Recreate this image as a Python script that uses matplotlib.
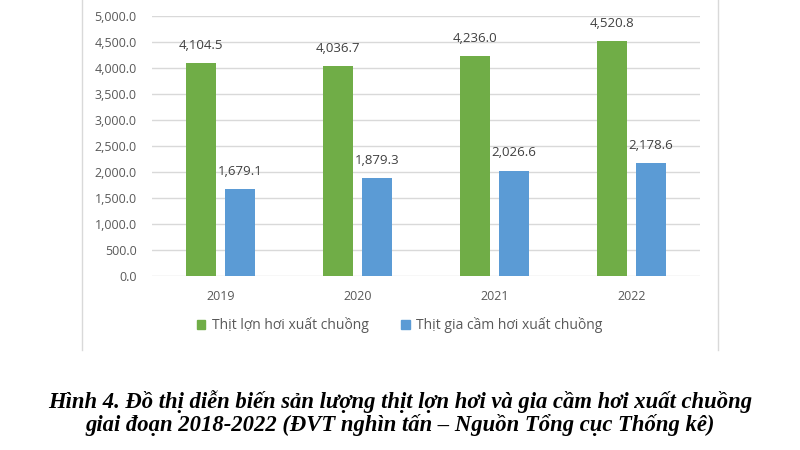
import matplotlib
matplotlib.use("Agg")
import matplotlib.pyplot as plt
import numpy as np
from matplotlib.lines import Line2D
from matplotlib.patches import Patch

years = ["2019", "2020", "2021", "2022"]
pork = [4104.5, 4036.7, 4236.0, 4520.8]
poultry = [1679.1, 1879.3, 2026.6, 2178.6]
series_names = ["Thịt lợn hơi xuất chuồng", "Thịt gia cầm hơi xuất chuồng"]
yticks = [0, 500, 1000, 1500, 2000, 2500, 3000, 3500, 4000, 4500, 5000]
caption = ("Hình 4. Đồ thị diễn biến sản lượng thịt lợn hơi và gia cầm hơi xuất chuồng\n"
           "giai đoạn 2018-2022 (ĐVT nghìn tấn – Nguồn Tổng cục Thống kê)")

green = "#70AD47"
blue = "#5B9BD5"
grey_txt = "#595959"
grid_c = "#D9D9D9"

plt.rcParams['font.family'] = ['Open Sans', 'DejaVu Sans']

fig = plt.figure(figsize=(8, 4.5), dpi=100)
ax = fig.add_axes([0.19, 0.387, 0.685, 0.577])

x = np.arange(len(years))
w = 0.22
half = 0.1425
b1 = ax.bar(x - half, pork, w, color=green, label=series_names[0])
b2 = ax.bar(x + half, poultry, w, color=blue, label=series_names[1])

for bars, vals in ((b1, pork), (b2, poultry)):
    for r, v in zip(bars, vals):
        ax.annotate(f"{v:,.1f}", (r.get_x() + r.get_width() / 2, v),
                    xytext=(0, 8), textcoords="offset points",
                    ha="center", va="bottom", fontsize=9.5, color="#404040")

ax.set_xlim(-0.5, len(years) - 0.5)
ax.set_ylim(0, 5000)
ax.set_yticks(yticks)
ax.set_yticklabels([f"{v:,.1f}" for v in yticks])
ax.set_xticks(x)
ax.set_xticklabels(years)
ax.tick_params(axis="both", length=0, labelsize=9, labelcolor=grey_txt)
ax.tick_params(axis="y", pad=11)
ax.tick_params(axis="x", pad=10)
ax.grid(axis="y", color=grid_c, linewidth=1)
ax.set_axisbelow(True)
for s in ax.spines.values():
    s.set_visible(False)

handles = [Patch(color=green), Patch(color=blue)]
fig.legend(handles, series_names, loc="center", bbox_to_anchor=(0.5, 0.277),
           ncol=2, frameon=False, fontsize=10, handlelength=0.6, handleheight=0.6,
           handletextpad=0.5, columnspacing=2.3, labelcolor=grey_txt)

fig.add_artist(Line2D([82 / 800, 82 / 800], [1, 1 - 350 / 450], color=grid_c, linewidth=1))
fig.add_artist(Line2D([718 / 800, 718 / 800], [1, 1 - 350 / 450], color=grid_c, linewidth=1))

fig.text(0.5, 1 - 413 / 450, caption, ha="center", va="center", fontsize=16.3,
         fontweight="bold", fontstyle="italic", family=["Liberation Serif", "DejaVu Serif"],
         linespacing=1.03, color="black")

fig.savefig("out.png", dpi=100)
